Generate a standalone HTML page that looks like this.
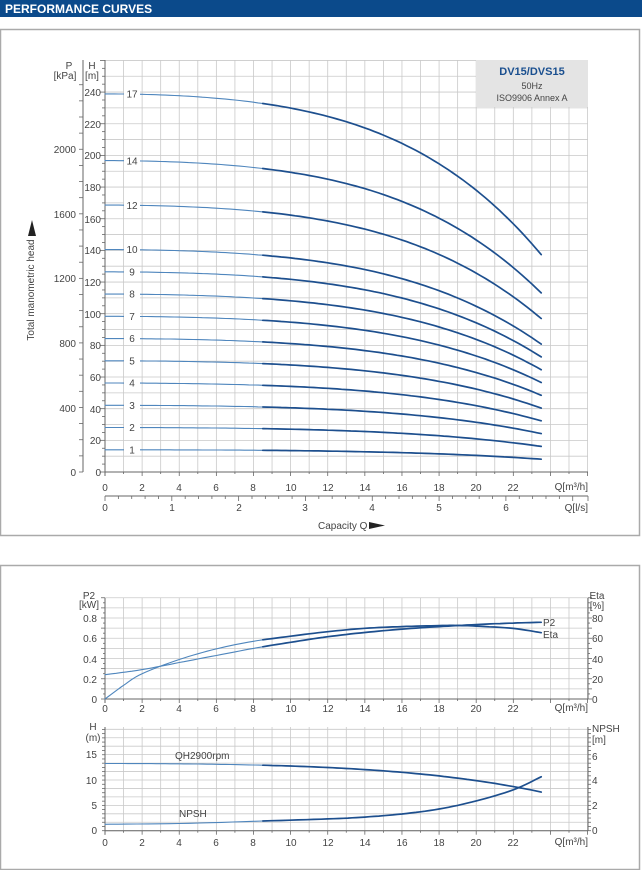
<!DOCTYPE html>
<html><head><meta charset="utf-8"><style>
html,body{margin:0;padding:0;background:#fff;}
body{width:642px;height:870px;overflow:hidden;position:relative;font-family:"Liberation Sans",sans-serif;}
svg text{font-family:"Liberation Sans",sans-serif;fill:#444;font-size:10px;}
</style></head><body>
<svg id="s" width="642" height="870" viewBox="0 0 642 870" xmlns="http://www.w3.org/2000/svg">
<rect x="0" y="0" width="642" height="17" fill="#0b4a8b"/>
<text x="5" y="13" style="fill:#fff;font-size:12px;font-weight:bold;">PERFORMANCE CURVES</text>
<rect x="0.5" y="29.5" width="639" height="506" fill="none" stroke="#aaa" stroke-width="1.5"/>
<rect x="0.5" y="565.5" width="639" height="304" fill="none" stroke="#aaa" stroke-width="1.5"/>
<g id="g"></g>
<rect x="476" y="60" width="112" height="47" fill="#e4e4e4"/>
<text x="532" y="75" text-anchor="middle" style="fill:#1a4f8f;font-weight:bold;font-size:11px;">DV15/DVS15</text>
<text x="532" y="89" text-anchor="middle" style="font-size:9px;">50Hz</text>
<text x="532" y="101" text-anchor="middle" style="font-size:9px;">ISO9906 Annex A</text>
<text x="69" y="69" text-anchor="middle">P</text>
<text x="65" y="79" text-anchor="middle">[kPa]</text>
<text x="92" y="69" text-anchor="middle">H</text>
<text x="92" y="79" text-anchor="middle">[m]</text>
<g text-anchor="end">
<text x="101" y="476">0</text><text x="101" y="444">20</text><text x="101" y="413">40</text><text x="101" y="381">60</text><text x="101" y="349">80</text><text x="101" y="318">100</text><text x="101" y="286">120</text><text x="101" y="254">140</text><text x="101" y="223">160</text><text x="101" y="191">180</text><text x="101" y="159">200</text><text x="101" y="128">220</text><text x="101" y="96">240</text>
<text x="76" y="476">0</text><text x="76" y="412">400</text><text x="76" y="347">800</text><text x="76" y="282">1200</text><text x="76" y="218">1600</text><text x="76" y="153">2000</text>
</g>
<g text-anchor="middle">
<text x="105" y="491">0</text><text x="142" y="491">2</text><text x="179" y="491">4</text><text x="216" y="491">6</text><text x="253" y="491">8</text><text x="291" y="491">10</text><text x="328" y="491">12</text><text x="365" y="491">14</text><text x="402" y="491">16</text><text x="439" y="491">18</text><text x="476" y="491">20</text><text x="513" y="491">22</text>
<text x="105" y="511">0</text><text x="172" y="511">1</text><text x="239" y="511">2</text><text x="305" y="511">3</text><text x="372" y="511">4</text><text x="439" y="511">5</text><text x="506" y="511">6</text>
</g>
<text x="588" y="490" text-anchor="end">Q[m³/h]</text>
<text x="588" y="511" text-anchor="end">Q[l/s]</text>
<text x="318" y="529">Capacity Q</text>
<polygon points="369,522 385,525.5 369,529" fill="#222"/>
<text transform="translate(34,290) rotate(-90)" text-anchor="middle">Total manometric head</text>
<polygon points="28,236 32,220 36,236" fill="#222"/>
<g id="lab" text-anchor="middle"></g>
<text x="89" y="599" text-anchor="middle">P2</text><text x="89" y="608" text-anchor="middle">[kW]</text>
<text x="597" y="599" text-anchor="middle">Eta</text><text x="597" y="609" text-anchor="middle">[%]</text>
<g text-anchor="end">
<text x="97" y="703">0</text><text x="97" y="683">0.2</text><text x="97" y="663">0.4</text><text x="97" y="642">0.6</text><text x="97" y="622">0.8</text>
</g>
<g>
<text x="592" y="703">0</text><text x="592" y="683">20</text><text x="592" y="663">40</text><text x="592" y="642">60</text><text x="592" y="622">80</text>
</g>
<text x="543" y="626">P2</text><text x="543" y="638">Eta</text>
<text x="93" y="730" text-anchor="middle">H</text><text x="93" y="741" text-anchor="middle">(m)</text>
<text x="592" y="732">NPSH</text><text x="592" y="743">[m]</text>
<g text-anchor="end">
<text x="97" y="834">0</text><text x="97" y="809">5</text><text x="97" y="784">10</text><text x="97" y="758">15</text>
</g>
<g>
<text x="592" y="834">0</text><text x="592" y="809">2</text><text x="592" y="784">4</text><text x="592" y="760">6</text>
</g>
<text x="175" y="759">QH2900rpm</text>
<text x="179" y="817">NPSH</text>
<g text-anchor="middle">
<text x="105" y="712">0</text><text x="142" y="712">2</text><text x="179" y="712">4</text><text x="216" y="712">6</text><text x="253" y="712">8</text><text x="291" y="712">10</text><text x="328" y="712">12</text><text x="365" y="712">14</text><text x="402" y="712">16</text><text x="439" y="712">18</text><text x="476" y="712">20</text><text x="513" y="712">22</text>
<text x="105" y="846">0</text><text x="142" y="846">2</text><text x="179" y="846">4</text><text x="216" y="846">6</text><text x="253" y="846">8</text><text x="291" y="846">10</text><text x="328" y="846">12</text><text x="365" y="846">14</text><text x="402" y="846">16</text><text x="439" y="846">18</text><text x="476" y="846">20</text><text x="513" y="846">22</text>
</g>
<text x="588" y="711" text-anchor="end">Q[m³/h]</text>
<text x="588" y="845" text-anchor="end">Q[m³/h]</text>
</svg>
<script>
var NS="http://www.w3.org/2000/svg",G=document.getElementById('g');
function el(t,a,p){var e=document.createElementNS(NS,t);for(var k in a)e.setAttribute(k,a[k]);(p||G).appendChild(e);return e;}
function line(x1,y1,x2,y2,c,w){el('line',{x1:x1,y1:y1,x2:x2,y2:y2,stroke:c,'stroke-width':w||1});}
var X0=105,KX=18.56,XR=588;
function X(q){return X0+q*KX;}
function grid(top,bot,ys){
 for(var i=0;i<=26;i++)line(X(i),top,X(i),bot,'#c9c9c9',0.8);
 ys.forEach(function(y){line(X0,y,XR,y,'#c9c9c9',0.8);});
 line(X0,top,X0,bot+4,'#666',1);line(X0,bot,XR,bot,'#666',1);
 for(var i=0;i<=26;i++)line(X(i),bot,X(i),bot+(i%2?2:4),'#666',0.8);
}
var ys=[];for(var h=0;h<=260;h+=10)ys.push(472-h*1.583);
grid(60,472,ys);
line(83,60,83,472,'#666',1);
for(var p=0;p<=2400;p+=100){var y=472-p/9.81*1.583;if(y<60)break;line(79,y,83,y,'#666',0.8);}
for(var h=0;h<=260;h+=5){var y=472-h*1.583;line(h%20?102:100,y,X0,y,'#666',0.8);}
line(X0,496,XR,496,'#666',1);
for(var l=0;l<=7.2;l+=0.2){var x=X0+l*3.6*KX;if(x>XR)break;var m=Math.abs(l-Math.round(l))<0.01;line(x,496,x,m?501:499,'#666',0.8);}
line(XR,496,XR,501,'#666',0.8);
function spl(pts,n){var out=[];for(var i=0;i<pts.length-1;i++){var p0=pts[Math.max(0,i-1)],p1=pts[i],p2=pts[i+1],p3=pts[Math.min(pts.length-1,i+2)];
 for(var k=0;k<n;k++){var t=k/n,t2=t*t,t3=t2*t;
 var f=function(a,b,c,d){return 0.5*(2*b+(-a+c)*t+(2*a-5*b+4*c-d)*t2+(-a+3*b-3*c+d)*t3);};
 out.push([f(p0[0],p1[0],p2[0],p3[0]),f(p0[1],p1[1],p2[1],p3[1])]);}}
 out.push(pts[pts.length-1]);return out;}
function draw(pts,x0,x1,c,w){var d='',first=true;pts.forEach(function(p){if(p[0]<x0-0.01||p[0]>x1+0.01)return;d+=(first?'M':'L')+p[0].toFixed(1)+','+p[1].toFixed(1);first=false;});el('path',{d:d,fill:'none',stroke:c,'stroke-width':w,'stroke-linecap':'round'});}
function curve(tab,fx,fy,brk,n){var pts=spl(tab.map(function(a){return [fx(a[0]),fy(a[1])];}),n||8);
 draw(pts,-1e9,fx(brk),'#4f86bd',1.1);draw(pts,fx(brk),1e9,'#1d4f8e',1.7);return pts;}
function sh(q){return 1-2.885e-4*q*q-8.71e-7*q*q*q*q;}
var shape=[];for(var q=0;q<=23.5001;q+=0.5)shape.push([q,sh(q)]);
var LAB=document.getElementById('lab');
[1,2,3,4,5,6,7,8,9,10,12,14,17].forEach(function(n){var H0=14.05*n;
 var tab=shape.map(function(a){return [a[0],H0*a[1]];});
 curve(tab,X,function(h){return 472-h*1.583;},8.5,2);
 var y=472-H0*sh(1.4)*1.583;
 el('rect',{x:124,y:y-5,width:16,height:10,fill:'#fff'});
 var t=el('text',{x:132,y:y+3.5},LAB);t.textContent=n;});
var PY=function(v){return 699-v*101.25;};
var ys2=[];for(var v=0;v<=1.0001;v+=0.1)ys2.push(PY(v));
grid(598,699,ys2);
line(XR,598,XR,699,'#666',1);
for(var v=0;v<=1.0001;v+=0.05){line(X0-(Math.round(v*20)%2?2:4),PY(v),X0,PY(v),'#666',0.8);line(XR,PY(v),XR+(Math.round(v*20)%2?2:4),PY(v),'#666',0.8);}
curve([[0,0.24],[2,0.29],[4,0.36],[6,0.43],[8,0.5],[10,0.56],[12,0.615],[14,0.657],[16,0.69],[18,0.715],[20,0.735],[22,0.75],[23.5,0.758]],X,PY,8.5);
curve([[0,0],[1,0.135],[2,0.25],[4,0.39],[6,0.495],[8,0.57],[10,0.62],[12,0.665],[14,0.698],[16,0.715],[18,0.725],[19,0.726],[20,0.72],[22,0.697],[23.5,0.655]],X,PY,8.5);
var HY=function(h){return 830.7-h*5.07;},NY=function(n){return 830.7-n*12.4;};
var ys3=[];for(var y=830.7;y>=727;y-=8.45)ys3.push(y);
grid(727,830.7,ys3);
line(XR,727,XR,830.7,'#666',1);
for(var y=830.7;y>=727;y-=4.22){line(X0-3,y,X0,y,'#666',0.8);line(XR,y,XR+3,y,'#666',0.8);}
curve(shape.map(function(a){return [a[0],13.25*a[1]];}),X,HY,8.5,2);
curve([[0,0.52],[4,0.58],[8.5,0.78],[12,0.95],[14,1.1],[16,1.35],[18,1.75],[20,2.4],[22,3.3],[23.5,4.35]],X,NY,8.5);
</script>
</body></html>
